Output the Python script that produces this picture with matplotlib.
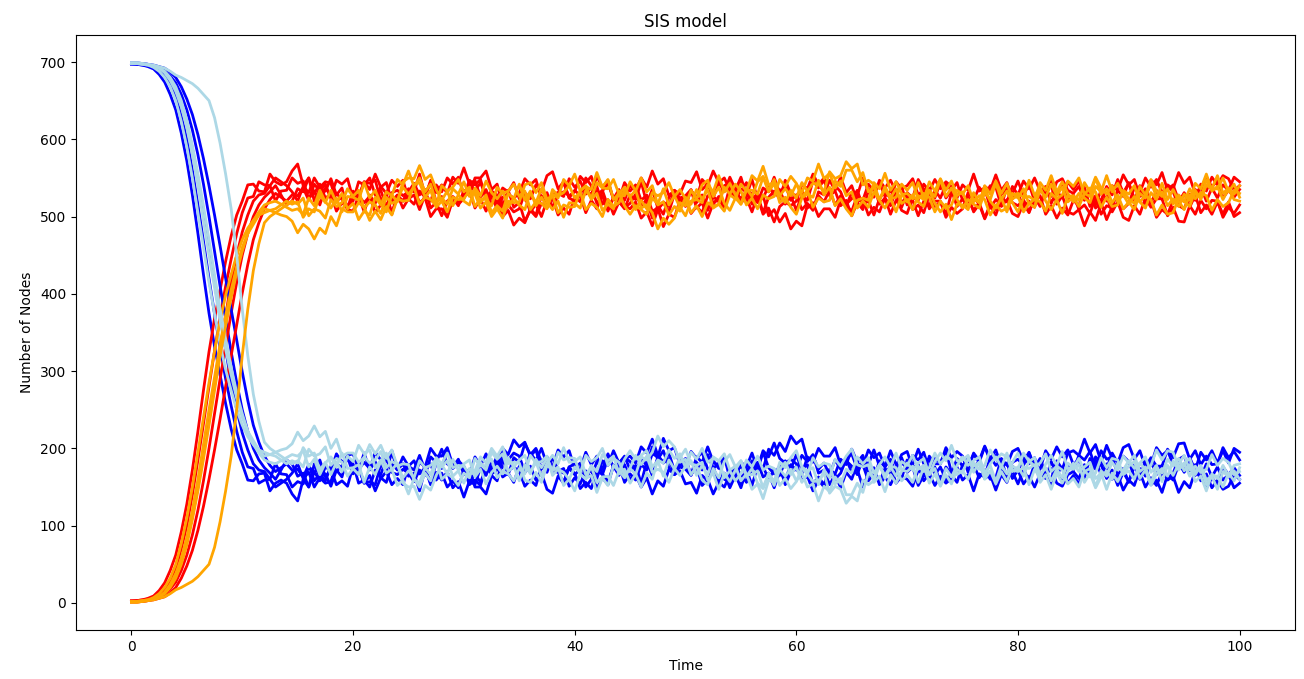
import numpy as np
import matplotlib
matplotlib.use('Agg')
import matplotlib.pyplot as plt

N_NODES = 700
# one reading every half time unit, from t=0 to t=100
time = np.arange(0, 201) * 0.5

# infected counts per run (10 values = 5 time units per row)
infected_red = [
    [2, 3, 4, 6, 9, 16, 26, 42, 62, 92,
     128, 172, 222, 275, 325, 368, 405, 442, 475, 502,
     520, 541, 542, 533, 532, 555, 545, 541, 545, 559,
     568, 540, 550, 520, 537, 533, 549, 528, 537, 509,
     526, 524, 545, 543, 547, 521, 529, 505, 527, 520,
     536, 532, 555, 527, 545, 519, 526, 501, 524, 514,
     534, 527, 550, 550, 559, 535, 542, 513, 534, 512,
     518, 494, 508, 500, 517, 511, 529, 531, 544, 524,
     534, 527, 550, 540, 539, 516, 522, 503, 519, 510,
     528, 522, 545, 517, 535, 511, 519, 513, 534, 529,
     546, 544, 558, 535, 542, 516, 526, 511, 539, 534,
     551, 527, 548, 523, 527, 501, 509, 493, 504, 484,
     494, 488, 515, 510, 527, 519, 534, 515, 527, 514,
     531, 527, 550, 533, 539, 516, 524, 503, 521, 512,
     531, 524, 548, 535, 537, 513, 519, 503, 531, 524,
     541, 534, 555, 533, 537, 511, 522, 515, 537, 530,
     546, 527, 542, 520, 527, 503, 514, 498, 511, 502,
     521, 514, 538, 513, 527, 503, 514, 511, 534, 526,
     544, 520, 540, 517, 522, 499, 509, 503, 521, 514,
     531, 512, 528, 505, 515, 503, 519, 503, 519, 500,
     505],
    [3, 3, 4, 5, 7, 11, 18, 29, 45, 70,
     100, 140, 185, 232, 280, 326, 370, 410, 445, 478,
     505, 524, 526, 545, 541, 540, 520, 533, 534, 550,
     543, 546, 523, 533, 515, 537, 527, 547, 542, 549,
     523, 528, 506, 528, 517, 539, 530, 547, 539, 547,
     523, 528, 509, 528, 520, 541, 532, 550, 542, 551,
     528, 534, 511, 523, 507, 527, 517, 537, 532, 544,
     523, 526, 506, 516, 500, 521, 510, 530, 526, 549,
     538, 546, 529, 538, 517, 527, 507, 525, 522, 544,
     533, 541, 521, 528, 507, 511, 487, 503, 499, 521,
     513, 534, 523, 548, 540, 559, 544, 550, 534, 541,
     518, 524, 506, 528, 523, 541, 527, 535, 516, 527,
     508, 528, 521, 546, 537, 547, 527, 533, 514, 521,
     501, 518, 509, 533, 525, 547, 537, 547, 532, 539,
     515, 521, 501, 520, 513, 534, 524, 541, 534, 544,
     521, 526, 506, 516, 497, 514, 502, 523, 519, 539,
     528, 546, 536, 550, 533, 539, 517, 533, 524, 545,
     535, 546, 526, 536, 515, 534, 520, 540, 534, 554,
     541, 548, 526, 536, 517, 534, 522, 541, 536, 557,
     543, 551, 529, 538, 520, 537, 524, 541, 534, 551,
     545],
    [2, 2, 3, 4, 6, 9, 14, 23, 36, 56,
     80, 112, 150, 194, 240, 285, 330, 372, 415, 450,
     480, 502, 520, 528, 530, 540, 550, 545, 540, 532,
     520, 539, 531, 550, 538, 545, 543, 519, 527, 509,
     507, 527, 518, 526, 505, 515, 513, 503, 527, 520,
     527, 537, 518, 524, 500, 510, 510, 499, 522, 516,
     523, 544, 533, 544, 525, 533, 528, 503, 515, 506,
     510, 531, 523, 541, 532, 553, 558, 536, 545, 524,
     520, 527, 505, 521, 510, 533, 543, 523, 535, 514,
     510, 519, 498, 506, 488, 509, 518, 506, 529, 520,
     525, 534, 511, 518, 498, 517, 523, 511, 532, 526,
     533, 544, 523, 528, 505, 525, 533, 523, 547, 530,
     527, 534, 511, 518, 500, 510, 510, 499, 522, 516,
     523, 534, 513, 521, 502, 523, 533, 523, 545, 536,
     540, 549, 528, 534, 510, 520, 520, 499, 512, 504,
     510, 531, 521, 538, 528, 540, 538, 513, 522, 504,
     500, 517, 505, 524, 515, 535, 540, 516, 527, 506,
     503, 509, 488, 506, 495, 517, 526, 506, 519, 499,
     495, 514, 503, 524, 512, 523, 523, 501, 512, 494,
     493, 514, 503, 521, 510, 521, 520, 499, 512, 504,
     515],
    [2, 2, 2, 3, 5, 7, 11, 18, 27, 42,
     62, 88, 120, 158, 200, 245, 290, 332, 375, 415,
     450, 478, 500, 515, 525, 532, 540, 528, 515, 520,
     536, 532, 550, 530, 542, 524, 529, 507, 518, 511,
     533, 526, 545, 535, 555, 538, 544, 520, 528, 511,
     523, 516, 533, 525, 547, 531, 541, 530, 551, 543,
     563, 542, 547, 525, 535, 516, 524, 500, 508, 489,
     498, 492, 510, 502, 527, 514, 524, 502, 511, 503,
     526, 519, 535, 528, 552, 538, 547, 522, 531, 521,
     540, 534, 550, 538, 559, 542, 549, 527, 534, 513,
     523, 504, 513, 505, 527, 524, 544, 532, 551, 535,
     548, 526, 530, 518, 537, 532, 551, 530, 541, 521,
     528, 509, 517, 508, 532, 528, 547, 534, 551, 531,
     540, 519, 523, 502, 512, 506, 524, 514, 534, 517,
     528, 509, 515, 505, 529, 524, 544, 524, 534, 513,
     523, 512, 525, 516, 539, 534, 554, 534, 544, 523,
     530, 512, 520, 512, 535, 531, 549, 530, 541, 521,
     528, 509, 515, 504, 525, 521, 539, 528, 548, 531,
     543, 524, 530, 522, 547, 541, 557, 534, 541, 521,
     530, 520, 535, 528, 552, 538, 547, 524, 534, 525,
     535],
    [1, 1, 2, 3, 4, 6, 8, 13, 20, 32,
     48, 68, 94, 125, 160, 198, 238, 280, 320, 360,
     401, 438, 470, 492, 510, 522, 530, 525, 520, 528,
     527, 537, 521, 542, 533, 542, 523, 530, 522, 514,
     520, 545, 541, 550, 528, 534, 513, 531, 534, 527,
     532, 543, 528, 535, 511, 518, 501, 520, 526, 520,
     527, 547, 541, 548, 523, 528, 509, 525, 529, 524,
     530, 549, 541, 548, 523, 531, 511, 529, 532, 527,
     532, 552, 544, 552, 528, 534, 513, 523, 519, 512,
     517, 529, 514, 522, 498, 514, 503, 525, 532, 524,
     527, 535, 518, 528, 508, 526, 519, 540, 544, 528,
     524, 532, 516, 525, 503, 511, 493, 513, 519, 514,
     520, 542, 536, 555, 541, 550, 531, 540, 532, 514,
     507, 527, 521, 542, 533, 544, 526, 533, 526, 508,
     504, 525, 521, 542, 533, 548, 536, 545, 539, 520,
     512, 522, 508, 518, 498, 516, 509, 529, 534, 518,
     514, 522, 506, 525, 513, 534, 526, 545, 549, 534,
     530, 539, 521, 532, 511, 518, 496, 513, 516, 510,
     517, 537, 531, 550, 538, 548, 531, 540, 532, 514,
     510, 529, 521, 542, 533, 551, 541, 553, 549, 534,
     540],
]

infected_orange = [
    [2, 2, 3, 4, 7, 12, 20, 32, 50, 77,
     110, 150, 195, 240, 285, 326, 365, 398, 425, 450,
     470, 485, 495, 502, 505, 508, 510, 515, 520, 516,
     519, 499, 510, 506, 528, 518, 534, 518, 530, 510,
     517, 496, 507, 502, 525, 515, 532, 527, 548, 541,
     559, 539, 550, 532, 542, 518, 524, 516, 536, 529,
     545, 526, 535, 518, 528, 505, 514, 507, 530, 523,
     542, 521, 533, 514, 525, 513, 529, 524, 548, 540,
     555, 533, 540, 522, 530, 508, 516, 510, 533, 527,
     545, 533, 550, 532, 540, 515, 519, 502, 513, 507,
     525, 516, 535, 522, 535, 511, 516, 507, 528, 523,
     542, 533, 553, 546, 565, 541, 544, 527, 536, 527,
     542, 531, 550, 546, 568, 549, 556, 537, 546, 527,
     532, 511, 520, 512, 532, 521, 539, 524, 536, 517,
     522, 509, 527, 522, 545, 533, 549, 534, 546, 527,
     532, 513, 523, 518, 540, 529, 546, 530, 543, 523,
     527, 506, 517, 512, 535, 525, 542, 527, 538, 519,
     525, 513, 530, 526, 550, 529, 536, 518, 528, 510,
     519, 509, 530, 524, 545, 525, 532, 514, 523, 513,
     529, 521, 543, 536, 555, 533, 539, 522, 536, 529,
     540],
    [1, 1, 2, 3, 5, 8, 14, 24, 38, 58,
     85, 120, 160, 205, 250, 292, 335, 372, 405, 435,
     460, 478, 490, 502, 510, 508, 505, 510, 515, 520,
     516, 524, 501, 510, 507, 498, 522, 513, 518, 536,
     526, 534, 511, 519, 515, 504, 525, 517, 521, 538,
     529, 538, 516, 525, 522, 514, 540, 533, 538, 548,
     532, 538, 513, 523, 522, 514, 538, 530, 533, 542,
     526, 533, 509, 519, 517, 510, 535, 527, 531, 540,
     524, 532, 509, 517, 512, 500, 522, 513, 518, 534,
     526, 534, 511, 515, 505, 484, 498, 490, 498, 518,
     514, 534, 523, 541, 547, 526, 538, 517, 508, 524,
     516, 536, 526, 545, 552, 534, 548, 527, 518, 534,
     524, 544, 533, 543, 542, 532, 558, 549, 553, 571,
     562, 568, 541, 547, 542, 522, 535, 523, 525, 542,
     534, 544, 523, 530, 525, 506, 520, 511, 515, 534,
     529, 540, 519, 527, 522, 502, 515, 507, 511, 530,
     524, 536, 516, 523, 519, 507, 530, 523, 528, 546,
     539, 550, 529, 537, 532, 512, 525, 513, 515, 534,
     529, 540, 519, 527, 522, 502, 515, 503, 505, 524,
     519, 536, 523, 531, 527, 508, 522, 513, 518, 534,
     530],
    [2, 2, 3, 4, 5, 8, 12, 20, 32, 50,
     75, 108, 145, 186, 230, 275, 320, 358, 395, 428,
     455, 478, 495, 506, 515, 518, 520, 516, 512, 508,
     510, 503, 524, 514, 534, 519, 511, 524, 506, 526,
     525, 521, 544, 524, 534, 517, 506, 528, 519, 545,
     550, 549, 566, 548, 554, 535, 521, 533, 514, 528,
     520, 515, 537, 527, 546, 531, 523, 533, 512, 524,
     515, 509, 531, 518, 536, 519, 509, 520, 499, 518,
     517, 511, 534, 524, 544, 537, 536, 548, 529, 538,
     525, 509, 521, 510, 531, 527, 531, 544, 526, 535,
     523, 505, 514, 500, 518, 513, 516, 538, 529, 542,
     533, 515, 524, 510, 528, 523, 526, 548, 539, 552,
     543, 525, 534, 512, 524, 519, 521, 546, 539, 560,
     560, 545, 557, 532, 538, 521, 511, 524, 506, 528,
     530, 523, 544, 524, 534, 517, 506, 516, 496, 516,
     515, 509, 531, 518, 536, 520, 511, 524, 506, 528,
     530, 525, 547, 527, 538, 520, 509, 522, 504, 526,
     527, 521, 544, 532, 551, 537, 529, 540, 519, 532,
     523, 517, 539, 528, 548, 533, 526, 536, 516, 528,
     520, 513, 534, 522, 541, 535, 536, 550, 532, 542,
     525],
    [1, 1, 2, 3, 4, 6, 8, 12, 17, 20,
     24, 28, 34, 42, 50, 72, 105, 145, 190, 250,
     320, 380, 430, 465, 492, 500, 505, 502, 500, 494,
     479, 490, 484, 471, 485, 478, 500, 488, 510, 506,
     506, 518, 512, 495, 507, 496, 513, 502, 523, 520,
     521, 541, 544, 525, 534, 512, 520, 506, 525, 522,
     523, 534, 529, 511, 519, 500, 510, 498, 520, 518,
     519, 541, 544, 531, 544, 522, 528, 505, 515, 512,
     513, 534, 539, 535, 557, 538, 548, 522, 530, 514,
     503, 514, 509, 503, 524, 516, 536, 515, 527, 512,
     501, 520, 522, 518, 541, 532, 553, 532, 543, 528,
     516, 534, 534, 529, 551, 532, 543, 518, 525, 512,
     503, 524, 529, 525, 547, 528, 538, 514, 523, 510,
     501, 521, 524, 521, 544, 536, 556, 534, 545, 530,
     519, 528, 519, 513, 534, 526, 548, 526, 537, 522,
     511, 522, 516, 511, 531, 522, 543, 522, 533, 518,
     506, 524, 526, 521, 544, 534, 553, 532, 545, 530,
     519, 530, 524, 518, 539, 532, 553, 532, 543, 528,
     516, 526, 519, 511, 531, 522, 543, 522, 535, 520,
     509, 528, 529, 525, 547, 536, 553, 530, 537, 522,
     520],
]


def plot_runs(ax, runs, s_color, i_color):
    for run in runs:
        infected = np.array(run)
        # susceptible nodes are everything that is not infected
        susceptible = N_NODES - infected
        ax.plot(time, susceptible, color=s_color, linewidth=2)
        ax.plot(time, infected, color=i_color, linewidth=2)


fig = plt.figure(figsize=(13.04, 6.79), dpi=100)
ax = fig.add_axes([0.0583, 0.0722, 0.9348, 0.8763])

plot_runs(ax, infected_red, 'blue', 'red')
plot_runs(ax, infected_orange, 'lightblue', 'orange')

ax.set_xlim(-5, 105)
ax.set_ylim(-35, 735)
ax.set_xlabel('Time')
ax.set_ylabel('Number of Nodes')
ax.set_title('SIS model')

fig.savefig('out.png', dpi=100)
